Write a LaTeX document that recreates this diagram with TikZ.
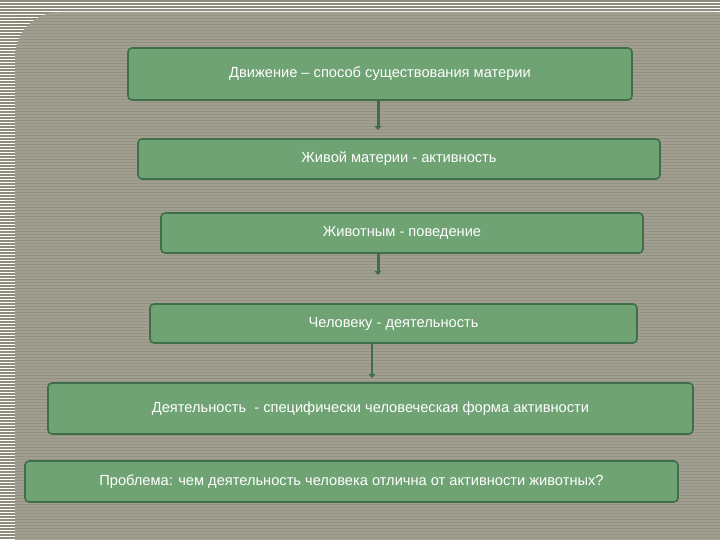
\documentclass[tikz,border=0pt]{standalone}
\usepackage{fontspec}
\setmainfont{Liberation Sans}
\usetikzlibrary{arrows.meta}
\definecolor{boxfill}{HTML}{6FA373}
\definecolor{boxline}{HTML}{3F6E48}
\definecolor{arrowc}{HTML}{3E6E4A}
\definecolor{panel}{HTML}{A19F90}
\definecolor{stripe}{HTML}{8E8C7C}
\tikzset{
  box/.style={draw=boxline, line width=1.6pt, fill=boxfill, rounded corners=4pt, text=white, font=\fontsize{14.7}{16}\selectfont, inner sep=0pt},
  conn/.style={draw=arrowc, line width=3pt, -{Triangle[length=4pt,width=7pt]}}
}
\begin{document}
\begin{tikzpicture}[x=1bp,y=-1bp]
\useasboundingbox (0,0) rectangle (720,540);
\fill[white] (0,0) rectangle (720,540);
\foreach \i in {0,...,179} {\fill[stripe] (0,\i*3) rectangle (720,\i*3+1.6);}
\fill[panel,rounded corners=45bp] (15,12) rectangle (760,580);
\foreach \i in {5,...,179} {\fill[stripe!85!black,opacity=0.3] (15,\i*3) rectangle (720,\i*3+1.2);}
\fill[white] (0,0) rectangle (15,540);
\foreach \i in {0,...,179} {\fill[stripe] (0,\i*3) rectangle (15,\i*3+1.6);}
\node[box, minimum width=504bp, minimum height=52bp] (b1) at (380,74) {Движение – способ существования материи};
\node[box, minimum width=522bp, minimum height=40bp] (b2) at (399,159) {Живой материи - активность};
\node[box, minimum width=482bp, minimum height=40bp] (b3) at (402,233) {Животным - поведение};
\node[box, minimum width=487bp, minimum height=39bp] (b4) at (393.5,323.5) {Человеку - деятельность};
\node[box, minimum width=645bp, minimum height=51bp] (b5) at (370.5,408.5) {Деятельность \ - специфически человеческая форма активности};
\node[box, minimum width=653bp, minimum height=41bp] (b6) at (351.5,481.5) {Проблема: чем деятельность человека отлична от активности животных?};
\coordinate (a1e) at (378,130);
\draw[conn] (a1e |- b1.south) -- (a1e);
\coordinate (a3e) at (378,275);
\draw[conn] (a3e |- b3.south) -- (a3e);
\coordinate (a4e) at (372,378);
\draw[conn, line width=1.6pt] (a4e |- b4.south) -- (a4e);
\end{tikzpicture}
\end{document}
